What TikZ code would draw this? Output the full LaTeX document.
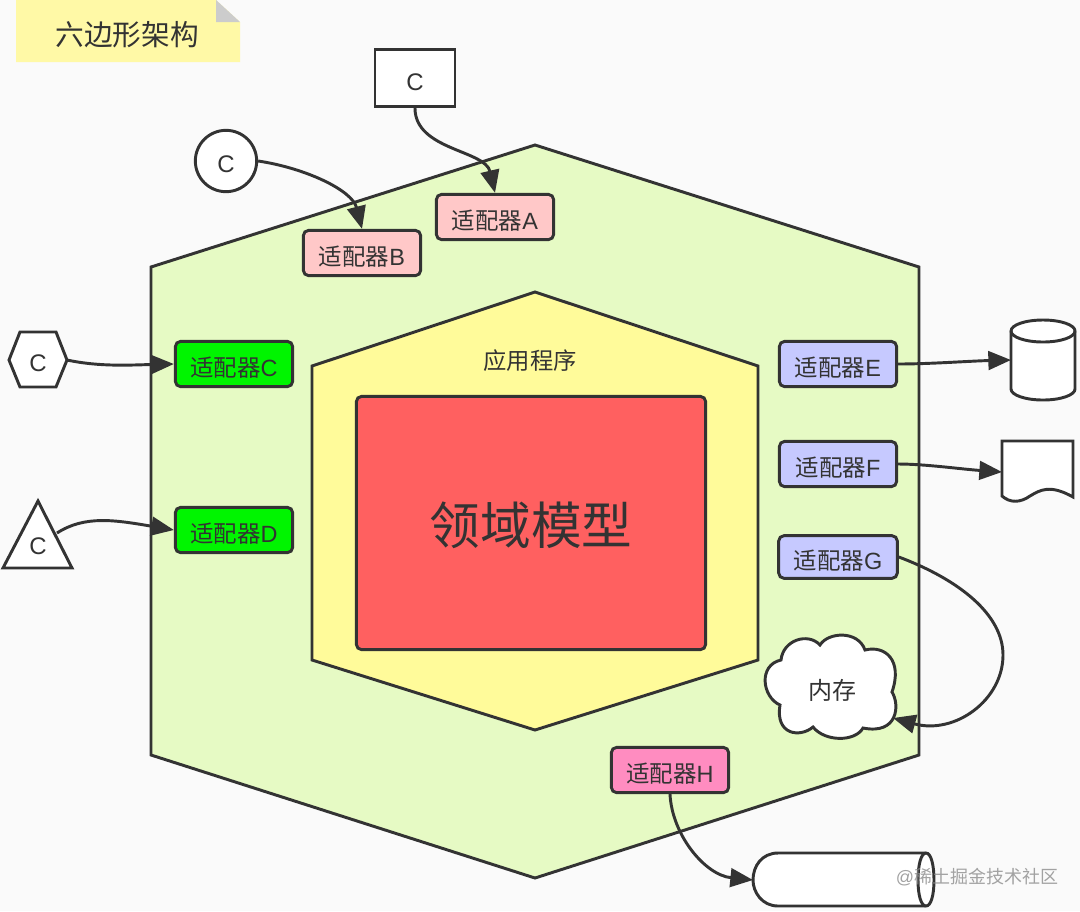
\documentclass[tikz,border=0pt]{standalone}
\usepackage{fontspec}
\setmainfont{Liberation Sans}
\newfontfamily\cjk{Noto Sans CJK SC}
\usetikzlibrary{arrows.meta,calc}
\definecolor{ink}{HTML}{333333}
\definecolor{bgc}{HTML}{FAFAFA}
\definecolor{outerc}{HTML}{E6FAC4}
\definecolor{innerc}{HTML}{FFFB9A}
\definecolor{redc}{HTML}{FF6060}
\definecolor{pinkc}{HTML}{FFC8C8}
\definecolor{greenc}{HTML}{00F500}
\definecolor{bluec}{HTML}{C6C9FF}
\definecolor{magc}{HTML}{FF8CC0}
\definecolor{notec}{HTML}{FFF9A6}
\tikzset{
  adapter/.style={draw=ink,line width=2.2pt,rounded corners=4pt,minimum width=88pt,minimum height=34pt,inner sep=0pt,text=ink,text height=19.5pt,text depth=0.5pt,font=\fontsize{17.6}{20}\selectfont},
  plainshape/.style={draw=ink,line width=2.2pt,fill=white},
  region/.style={draw=ink,line width=2.2pt},
  lbl/.style={text=ink,inner sep=0pt,font=\fontsize{18}{20}\selectfont},
  link/.style={draw=ink,line width=2.2pt,-{Triangle[length=17pt,width=14pt]}}
}
\begin{document}
\begin{tikzpicture}[x=0.75pt,y=-0.75pt]
\useasboundingbox (0,0) rectangle (1080,911);
\fill[bgc] (0,0) rectangle (1080,911);
% note
\fill[notec] (16,0) -- (216,0) -- (240,22) -- (240,62) -- (16,62) -- cycle;
\fill[black!20] (216,0) -- (240,22) -- (216,22) -- cycle;
\node[lbl,font=\fontsize{21.5}{24}\selectfont] (title) at (127,35) {\cjk 六边形架构};
% hexagons
\draw[region,fill=outerc] (535,145) -- (919,267) -- (919,755) -- (535,878) -- (151,755) -- (151,267) -- cycle;
\draw[region,fill=innerc] (535,292) -- (758,366) -- (758,660) -- (535,730) -- (312,660) -- (312,366) -- cycle;
\node[adapter,fill=redc,minimum width=262pt,minimum height=190pt,text height=32pt,text depth=0.4pt,font=\fontsize{38}{42}\selectfont] (model) at (531,523) {\cjk 领域模型};
\node[lbl,font=\fontsize{17.5}{20}\selectfont] (app) at (530,361) {\cjk 应用程序};
% adapters
\node[adapter,fill=pinkc] (A) at (495,217) {{\cjk 适配器}A};
\node[adapter,fill=pinkc] (B) at (362,253) {{\cjk 适配器}B};
\node[adapter,fill=greenc] (C) at (234,364) {{\cjk 适配器}C};
\node[adapter,fill=greenc] (D) at (234,530) {{\cjk 适配器}D};
\node[adapter,fill=bluec] (E) at (838,364) {{\cjk 适配器}E};
\node[adapter,fill=bluec] (F) at (838,464) {{\cjk 适配器}F};
\node[adapter,fill=bluec,minimum width=89pt,minimum height=32pt] (G) at (838,557) {{\cjk 适配器}G};
\node[adapter,fill=magc] (H) at (670,770) {{\cjk 适配器}H};
% outside shapes
\node[plainshape,minimum width=60pt,minimum height=43pt,inner sep=0pt,text=ink,text height=19pt,text depth=0pt,font=\fontsize{18}{20}\selectfont] (rectC) at (415,78) {C};
\node[plainshape,circle,minimum size=46pt,inner sep=0pt,text=ink,text height=18pt,text depth=0.5pt,font=\fontsize{18}{20}\selectfont] (circC) at (226,161) {C};
\draw[plainshape] (20,332) -- (56,332) -- (67,360) -- (56,387) -- (20,387) -- (9,360) -- cycle;
\node[lbl] (hexC) at (38,363) {C};
\coordinate (hexE) at (67,360);
\draw[plainshape] (38,501) -- (72,568) -- (3,568) -- cycle;
\node[lbl] (triC) at (38,546) {C};
\coordinate (triE) at (57,533);
% cylinder
\draw[plainshape] (1011,331) -- (1011,389) .. controls (1011,395) and (1025,400) .. (1043,400) .. controls (1061,400) and (1075,395) .. (1075,389) -- (1075,331) .. controls (1075,325) and (1061,320) .. (1043,320) .. controls (1025,320) and (1011,325) .. (1011,331) -- cycle;
\draw[plainshape,fill=none] (1011,331) .. controls (1011,337) and (1025,342) .. (1043,342) .. controls (1061,342) and (1075,337) .. (1075,331);
\coordinate (cyl) at (1011,360);
% document
\draw[plainshape] (1002,441) -- (1073,441) -- (1073,497) .. controls (1050,484) and (1040,490) .. (1030,496) .. controls (1020,503) and (1010,503) .. (1002,496) -- cycle;
\coordinate (doc) at (1002,472);
% cloud
\draw[plainshape] (780,705) .. controls (762,697) and (758,665) .. (781,660)
 .. controls (783,640) and (808,632) .. (820,645)
 .. controls (828,632) and (858,630) .. (865,650)
 .. controls (885,645) and (903,660) .. (892,692)
 .. controls (900,705) and (898,735) .. (863,728)
 .. controls (855,742) and (825,742) .. (813,727)
 .. controls (800,738) and (775,735) .. (780,705) -- cycle;
\node[lbl] (mem) at (832,690) {\cjk 内存};
\coordinate (cloud) at (893,718);
% tube
\draw[plainshape] (778,853) -- (926,853) .. controls (931,853) and (934,865) .. (934,880) .. controls (934,895) and (931,906) .. (926,906) -- (778,906) .. controls (762,906) and (753,892) .. (753,880) .. controls (753,866) and (762,853) .. (778,853) -- cycle;
\draw[plainshape,fill=none] (926,853) .. controls (921,853) and (918,865) .. (918,880) .. controls (918,895) and (921,906) .. (926,906);
\coordinate (tube) at (753,880);
% connectors
\draw[link] (rectC.south) .. controls (415,150) and (485,150) .. (A.north);
\draw[link] (circC.east) .. controls (305,168) and (352,190) .. (B.north);
\draw[link] (hexE) .. controls (100,367) and (130,365) .. (C.west);
\draw[link] (triE) .. controls (85,515) and (115,520) .. (D.west);
\draw[link] (E.east) .. controls (930,364) and (970,361) .. (cyl);
\draw[link] (F.east) .. controls (925,464) and (960,469) .. (doc);
\draw[link] (G.east) .. controls (960,580) and (1003,615) .. (1003,655) .. controls (1003,700) and (955,735) .. (cloud);
\draw[link] (H.south) .. controls (672,835) and (705,875) .. (tube);
% watermark
\node[inner sep=0pt,text=black!45,opacity=.8,font=\fontsize{13.5}{15}\selectfont] (wm) at (977,877) {@{\cjk 稀土掘金技术社区}};
\end{tikzpicture}
\end{document}
